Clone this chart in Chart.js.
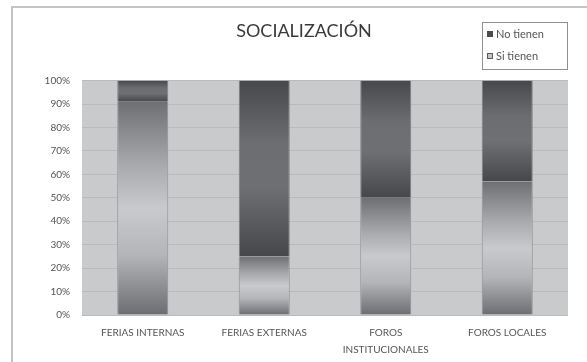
<!DOCTYPE html>
<html>
<head>
<meta charset="utf-8">
<script src="https://cdn.jsdelivr.net/npm/chart.js@4/dist/chart.umd.min.js"></script>
<style>
  html, body { margin: 0; padding: 0; background: #fff; }
  #wrap { width: 587px; height: 362px; }
</style>
</head>
<body>
<div id="wrap"><canvas id="chart"></canvas></div>
<script>
// data (percent of each category)
const categories = ['FERIAS INTERNAS', 'FERIAS EXTERNAS', ['FOROS', 'INSTITUCIONALES'], 'FOROS LOCALES'];
const siTienen = [91, 25, 50, 57];
const noTienen = [9, 75, 50, 43];
const seriesNames = ['Si tienen', 'No tienen'];

// vertical gradient stops for each segment (dark ends, lighter middle)
const lightStops = [[0, '#6e6f73'], [0.3, '#a9aaad'], [0.5, '#c9cacd'], [0.72, '#b4b5b8'], [1, '#6c6d71']];
const darkStops = [[0, '#47484c'], [0.35, '#6c6d71'], [0.6, '#6f7074'], [1, '#46474b']];

function segGradient(stops) {
    return (c) => {
        const chart = c.chart;
        const y = chart.scales.y;
        if (c.type !== 'data' || !chart.chartArea || !y) return stops[2][1];
        let start = 0;
        for (let d = 0; d < c.datasetIndex; d++) start += chart.data.datasets[d].data[c.dataIndex];
        const end = start + c.raw;
        const top = y.getPixelForValue(end);
        const bottom = y.getPixelForValue(start);
        const g = chart.ctx.createLinearGradient(0, top, 0, bottom);
        stops.forEach(([o, col]) => g.addColorStop(o, col));
        return g;
    };
}

// frame + plot background
const backdrop = {
    id: 'backdrop',
    beforeDraw(chart) {
        const { ctx, chartArea: a } = chart;
        ctx.save();
        ctx.fillStyle = '#fff';
        ctx.fillRect(0, 0, chart.width, chart.height);
        ctx.strokeStyle = '#c4c4c6';
        ctx.lineWidth = 2;
        ctx.strokeRect(12, 7, 640, 420);
        ctx.fillStyle = '#c9cacc';
        ctx.fillRect(a.left, a.top, a.right - a.left, a.bottom - a.top);
        ctx.restore();
    }
};

// boxed legend in the top right corner, "No tienen" first
const boxLegend = {
    id: 'boxLegend',
    afterDraw(chart) {
        const ctx = chart.ctx;
        const x = 482, y = 22, w = 85, h = 47;
        ctx.save();
        ctx.strokeStyle = '#909092';
        ctx.lineWidth = 1;
        ctx.strokeRect(x + 0.5, y + 0.5, w, h);
        ctx.font = '11px Lato, sans-serif';
        ctx.textBaseline = 'middle';
        const items = [
            { text: seriesNames[1], fill: '#4a4b4f', line: '#4a4b4f' },
            { text: seriesNames[0], fill: '#c3c4c7', line: '#5a5b5f' }
        ];
        items.forEach((it, i) => {
            const cy = y + 12 + i * 22;
            ctx.fillStyle = it.fill;
            ctx.fillRect(x + 5, cy - 3, 6, 6);
            ctx.strokeStyle = it.line;
            ctx.strokeRect(x + 5.5, cy - 2.5, 5, 5);
            ctx.fillStyle = '#555';
            ctx.fillText(it.text, x + 14, cy);
        });
        ctx.restore();
    }
};

new Chart(document.getElementById('chart'), {
    type: 'bar',
    data: {
        labels: categories,
        datasets: [
            {
                label: seriesNames[0],
                data: siTienen,
                backgroundColor: segGradient(lightStops),
                borderColor: '#8f9094',
                borderWidth: { left: 1, right: 1, top: 0, bottom: 0 },
                borderSkipped: false,
                categoryPercentage: 1,
                barPercentage: 0.42
            },
            {
                label: seriesNames[1],
                data: noTienen,
                backgroundColor: segGradient(darkStops),
                borderColor: '#7d7e82',
                borderWidth: { left: 1, right: 1, top: 0, bottom: 0 },
                borderSkipped: false,
                categoryPercentage: 1,
                barPercentage: 0.42
            }
        ]
    },
    options: {
        responsive: true,
        maintainAspectRatio: false,
        animation: false,
        layout: { padding: { left: 40, right: 19, top: 0, bottom: 4 } },
        plugins: {
            legend: { display: false },
            tooltip: { enabled: false },
            title: {
                display: true,
                text: 'SOCIALIZACIÓN',
                color: '#3a3a3a',
                font: { family: 'Lato', size: 18, weight: 'normal' },
                padding: { top: 20, bottom: 39 }
            }
        },
        scales: {
            x: {
                stacked: true,
                afterFit(scale) { scale.height = 43; },
                grid: { display: false, drawTicks: false },
                border: { display: false },
                ticks: {
                    color: '#555',
                    padding: 9,
                    maxRotation: 0,
                    autoSkip: false,
                    font: { family: 'Lato', size: 10, lineHeight: 1.7 }
                }
            },
            y: {
                stacked: true,
                min: 0,
                max: 100,
                afterFit(scale) { scale.width = 42; },
                grid: { color: '#b9babc', drawTicks: false },
                border: { display: false },
                ticks: {
                    stepSize: 10,
                    padding: 12,
                    color: '#555',
                    font: { family: 'Lato', size: 10 },
                    callback: (v) => v + '%'
                }
            }
        }
    },
    plugins: [backdrop, boxLegend]
});
</script>
</body>
</html>
